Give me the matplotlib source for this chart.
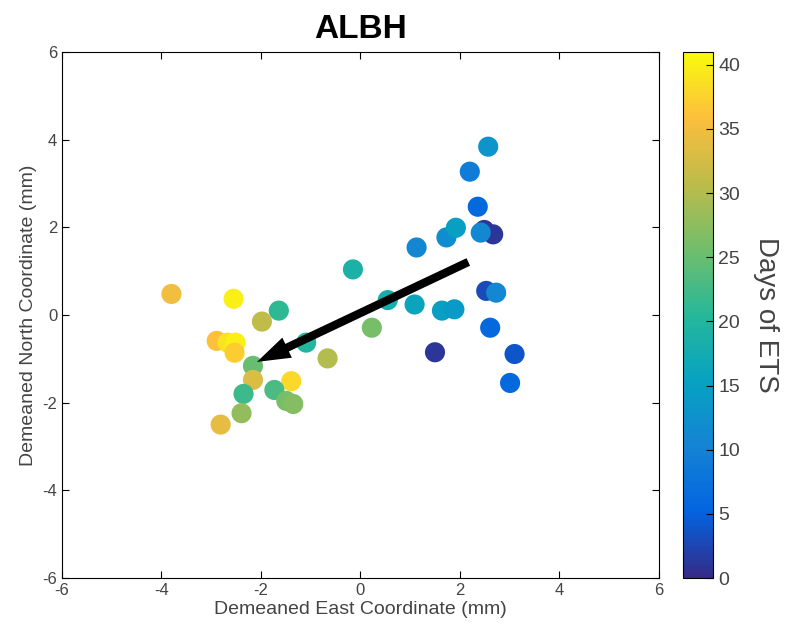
import numpy as np
import matplotlib
matplotlib.use("Agg")
import matplotlib.pyplot as plt
from matplotlib.colors import LinearSegmentedColormap

plt.rcParams['font.family'] = ['Liberation Sans', 'DejaVu Sans']
plt.rcParams['axes.unicode_minus'] = False

# --- data ---
east = [-3.80, -2.55, -1.64, -1.98, -2.89, -2.67, -2.51, -2.53, -1.09, -0.66,
        -2.16, -2.16, -1.39, -1.73, -2.35, -1.49, -1.35, -2.39, -2.81, -0.15,
        2.57, 2.20, 2.36, 1.73, 1.92, 2.49, 2.67, 2.42, 1.13, 0.55,
        1.09, 1.64, 1.89, 2.53, 2.73, 0.23, 2.61, 1.50, 3.10, 3.01]
north = [0.48, 0.37, 0.10, -0.15, -0.59, -0.63, -0.63, -0.86, -0.63, -0.99,
         -1.16, -1.48, -1.51, -1.71, -1.80, -1.96, -2.03, -2.24, -2.50, 1.04,
         3.84, 3.27, 2.47, 1.77, 1.99, 1.94, 1.84, 1.88, 1.54, 0.34,
         0.24, 0.10, 0.13, 0.55, 0.51, -0.29, -0.29, -0.85, -0.89, -1.55]
days = [35, 40, 21, 31, 36, 39, 40, 37, 20, 30,
        25, 33, 38, 23, 22, 26, 27, 28, 34, 19,
        13, 9, 6, 12, 15, 1, 1, 11, 11, 18,
        16, 15, 14, 3, 11, 26, 6, 1, 4, 6]

arrow_start = (2.17, 1.21)
arrow_end = (-2.08, -1.07)

# approximate MATLAB parula
parula_pts = [(0.2081, 0.1663, 0.5292), (0.0100, 0.3900, 0.8800),
              (0.0800, 0.5150, 0.8300), (0.0250, 0.6350, 0.7600),
              (0.1500, 0.7200, 0.6000), (0.4400, 0.7450, 0.4200),
              (0.7400, 0.7350, 0.2900), (0.9900, 0.7450, 0.2400),
              (0.9763, 0.9831, 0.0538)]
parula = LinearSegmentedColormap.from_list('parula', parula_pts)

fig = plt.figure(figsize=(7.88, 6.34), dpi=100)
ax = fig.add_axes([0.0787, 0.0883, 0.7573, 0.8297])
cax = fig.add_axes([0.867, 0.0883, 0.038, 0.8297])

sc = ax.scatter(east, north, c=days, cmap=parula, vmin=0, vmax=41,
                s=210, edgecolors='none')

# filled arrow (shaft + narrow head)
ax.annotate('', xy=arrow_end, xytext=arrow_start,
            arrowprops=dict(arrowstyle='simple,head_length=2.4,head_width=1.6,tail_width=0.6',
                            lw=0, fc='black', ec='black', shrinkA=0, shrinkB=0))

ax.set_xlim(-6, 6)
ax.set_ylim(-6, 6)
ax.set_xticks(np.arange(-6, 7, 2))
ax.set_yticks(np.arange(-6, 7, 2))
ax.tick_params(direction='in', top=True, right=True, labelsize=12,
               labelcolor='#444444', length=5)
ax.set_xlabel('Demeaned East Coordinate (mm)', fontsize=14, color='#444444', labelpad=2)
ax.set_ylabel('Demeaned North Coordinate (mm)', fontsize=14, color='#444444', labelpad=4)
ax.set_title('ALBH', fontsize=24, fontweight='bold', pad=10)

cb = fig.colorbar(sc, cax=cax)
cb.set_ticks(np.arange(0, 41, 5))
cb.ax.tick_params(direction='in', labelsize=14, labelcolor='#444444', length=5)
cb.set_label('Days of ETS', fontsize=20, color='#444444', rotation=270, labelpad=28)

fig.savefig('out.png', dpi=100)
